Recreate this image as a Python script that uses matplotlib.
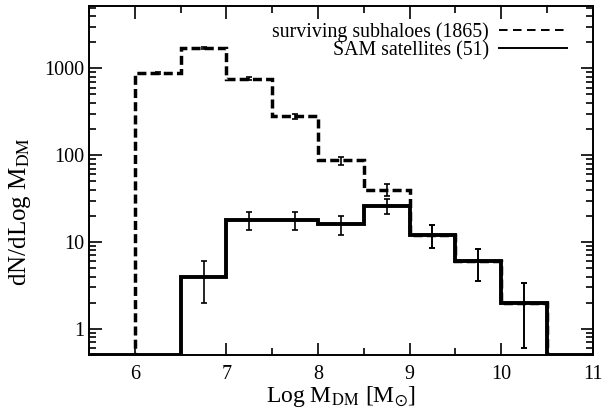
import numpy as np
import matplotlib
matplotlib.use('Agg')
import matplotlib.pyplot as plt
from matplotlib.lines import Line2D

plt.rcParams['font.family'] = ['Liberation Serif', 'DejaVu Serif']
plt.rcParams['mathtext.fontset'] = 'stix'

# bin edges in Log M_DM
edges = [5.5, 6.0, 6.5, 7.0, 7.5, 8.0, 8.5, 9.0, 9.5, 10.0, 10.5, 11.0]
centers = [6.25, 6.75, 7.25, 7.75, 8.25, 8.75, 9.25, 9.75, 10.25]

# surviving subhaloes (dashed)
sub_vals = [0, 880, 1700, 760, 280, 87, 40, 12, 6, 2, 0]
sub_err = [30, 41, 28, 17, 9.3, 6.3, 3.5, 2.4, 1.4]

# SAM satellites (solid)
sam_vals = [0, 0, 4, 18, 18, 16, 26, 12, 6, 2, 0]
sam_x = [6.75, 7.25, 7.75, 8.25, 8.75, 9.25, 9.75, 10.25]
sam_y = [4, 18, 18, 16, 26, 12, 6, 2]
sam_err = [2.0, 4.2, 4.2, 4.0, 5.1, 3.5, 2.4, 1.4]

ymin, ymax = 0.5, 5200

fig = plt.figure(figsize=(6.06, 4.08), dpi=100)
ax = fig.add_axes([0.147, 0.13, 0.831, 0.855])

# zero bins sit on the bottom of the plot
sub_plot = np.maximum(sub_vals, ymin)
sam_plot = np.maximum(sam_vals, ymin)

ax.stairs(sub_plot, edges, color='black', lw=2.5, ls=(0, (2.6, 1.2)),
          baseline=None)
ax.errorbar(centers, sub_vals[1:10], yerr=sub_err, fmt='none', ecolor='black',
            elinewidth=1.2, capsize=2.5, capthick=1.2)
ax.stairs(sam_plot, edges, color='black', lw=2.8, baseline=None)
ax.errorbar(sam_x, sam_y, yerr=sam_err, fmt='none', ecolor='black',
            elinewidth=1.2, capsize=2.5, capthick=1.2)

ax.set_yscale('log')
ax.set_xlim(5.5, 11)
ax.set_ylim(ymin, ymax)
ax.set_xticks([6, 7, 8, 9, 10, 11])
ax.set_xticks(np.arange(5.5, 11.01, 0.5), minor=True)
ax.set_yticks([1, 10, 100, 1000])
ax.set_yticklabels(['1', '10', '100', '1000'])
ax.tick_params(which='both', direction='in', top=True, right=True,
               labelsize=14.5, width=1.2)
ax.tick_params(axis='x', which='major', pad=7)
ax.tick_params(which='major', length=9)
ax.tick_params(which='minor', length=5)
for s in ax.spines.values():
    s.set_linewidth(1.4)

ax.set_xlabel(r'Log M$_{\rm DM}$ [M$_{\odot}$]', fontsize=17, labelpad=0)
ax.set_ylabel(r'dN/dLog M$_{\rm DM}$', fontsize=18)
ax.yaxis.set_label_coords(-0.112, 0.41)

handles = [Line2D([], [], color='black', lw=1.4, ls=(0, (4.4, 2.8))),
           Line2D([], [], color='black', lw=1.4)]
labels = ['surviving subhaloes (1865)', 'SAM satellites (51)']
ax.legend(handles, labels, loc='upper right', bbox_to_anchor=(0.964, 0.976),
          frameon=False, markerfirst=False, fontsize=14.3,
          handlelength=3.4, handletextpad=0.5, borderaxespad=0,
          labelspacing=-0.05)

fig.savefig('out.png', dpi=100)
